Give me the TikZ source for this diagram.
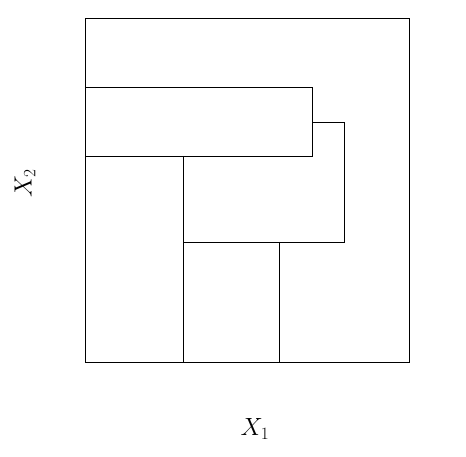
\documentclass[tikz,border=0pt]{standalone}
\begin{document}
\begin{tikzpicture}[x=1pt,y=-1pt,line width=0.8pt]
\useasboundingbox (0,0) rectangle (466,457);
\draw (85.3,18.7) rectangle (409.3,362);
\draw (85.3,87.3) -- (312,87.3) -- (312,156) -- (85.3,156);
\draw (312,122.3) -- (344.3,122.3) -- (344.3,242) -- (183,242);
\draw (183,156) -- (183,362);
\draw (279.7,242) -- (279.7,362);
\node[rotate=90,font=\fontsize{25}{30}\selectfont] (xtwo) at (25,183) {$X_2$};
\node[font=\fontsize{25}{30}\selectfont] (xone) at (255,429) {$X_1$};
\end{tikzpicture}
\end{document}
